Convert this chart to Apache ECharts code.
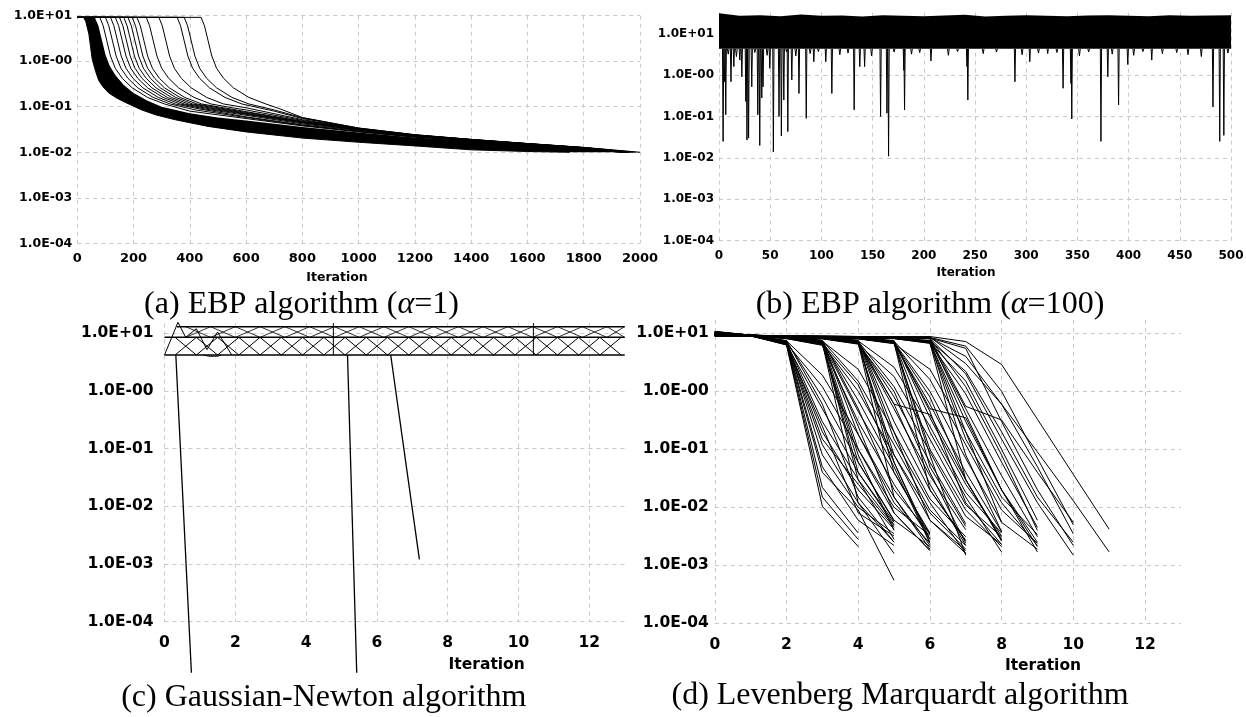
<!DOCTYPE html>
<html><head><meta charset="utf-8">
<script src="https://cdn.jsdelivr.net/npm/echarts@6/dist/echarts.min.js"></script>
<style>html,body{margin:0;padding:0;background:#fff}#c{width:1246px;height:717px}</style>
</head><body><div id="c"></div>
<script>
// ---------- tick labels ----------
const yTickLabels = ['1.0E-04','1.0E-03','1.0E-02','1.0E-01','1.0E-00','1.0E+01'];
const captions = ['(a) EBP algorithm ({i|α}=1)', '(b) EBP algorithm ({i|α}=100)', '(c) Gaussian-Newton algorithm', '(d) Levenberg Marquardt algorithm'];
const xName = 'Iteration';

// ---------- (a) EBP alpha=1 ----------
const aBandLower = [[0,9.2],[22,9.2],[30,7.5],[41,4],[53,1.1],[65,0.6],[76,0.38],[90,0.28],[112,0.2],[140,0.155],[170,0.125],[229,0.085],[280,0.066],[347,0.052],[465,0.037],[600,0.028],[800,0.0205],[1000,0.0166],[1200,0.0138],[1400,0.0113],[1600,0.0104],[1750,0.01]];
const aBandUpper = [[0,9.2],[62,9.2],[75,6],[88,2.8],[100,1.4],[115,0.8],[135,0.5],[165,0.3],[200,0.2],[250,0.135],[300,0.1],[400,0.072],[500,0.058],[600,0.05],[800,0.036],[1000,0.027],[1200,0.021],[1400,0.018],[1600,0.0148],[1800,0.0123],[1900,0.0108],[1960,0.01]];
const aC80  = [[0,9.2],[80,9.2],[92,6],[105,2.8],[118,1.3],[135,0.7],[160,0.42],[195,0.26],[250,0.16],[310,0.115],[400,0.08],[600,0.055],[800,0.038],[1000,0.028],[1200,0.0215],[1400,0.0178],[1600,0.0145],[1800,0.012],[1930,0.01]];
const aC100 = [[0,9.2],[100,9.2],[112,6],[125,2.8],[138,1.3],[155,0.7],[180,0.42],[215,0.26],[270,0.16],[330,0.115],[420,0.085],[600,0.058],[800,0.039],[1000,0.0285],[1200,0.0218],[1400,0.018],[1600,0.0146],[1800,0.0121],[1935,0.01]];
const aC118 = [[0,9.2],[118,9.2],[130,6],[143,2.8],[156,1.3],[173,0.7],[198,0.42],[233,0.26],[288,0.16],[348,0.115],[440,0.088],[600,0.06],[800,0.04],[1000,0.029],[1200,0.022],[1400,0.0181],[1600,0.0147],[1800,0.0121],[1940,0.01]];
const aC135 = [[0,9.2],[135,9.2],[147,6],[160,2.8],[173,1.3],[190,0.7],[215,0.42],[250,0.26],[305,0.16],[365,0.115],[450,0.09],[600,0.065],[800,0.042],[1000,0.03],[1200,0.0225],[1400,0.0183],[1600,0.0148],[1800,0.0122],[1945,0.01]];
const aC150 = [[0,9.2],[150,9.2],[162,6],[175,2.8],[188,1.3],[205,0.7],[230,0.42],[265,0.26],[320,0.16],[380,0.115],[460,0.092],[600,0.068],[800,0.044],[1000,0.031],[1200,0.0228],[1400,0.0185],[1600,0.015],[1800,0.0123],[1950,0.01]];
const aC165 = [[0,9.2],[165,9.2],[177,6],[190,2.8],[203,1.3],[220,0.7],[245,0.42],[280,0.26],[335,0.16],[395,0.115],[470,0.094],[600,0.07],[800,0.045],[1000,0.031],[1200,0.023],[1400,0.0186],[1600,0.0151],[1800,0.0124],[1950,0.01]];
const aC180 = [[0,9.2],[180,9.2],[192,6],[205,2.8],[218,1.3],[235,0.7],[260,0.42],[295,0.26],[350,0.16],[410,0.115],[480,0.096],[600,0.072],[800,0.046],[1000,0.0315],[1200,0.0232],[1400,0.0187],[1600,0.0152],[1800,0.0124],[1955,0.01]];
const aC195 = [[0,9.2],[195,9.2],[207,6],[220,2.8],[233,1.3],[250,0.7],[275,0.42],[310,0.26],[365,0.16],[425,0.115],[500,0.095],[600,0.075],[800,0.047],[1000,0.032],[1200,0.0234],[1400,0.0188],[1600,0.0152],[1800,0.0125],[1958,0.01]];
const aC212 = [[0,9.2],[212,9.2],[224,6],[237,2.8],[250,1.3],[267,0.7],[292,0.42],[327,0.26],[382,0.16],[442,0.115],[520,0.095],[600,0.078],[800,0.048],[1000,0.0322],[1200,0.0235],[1400,0.0188],[1600,0.0153],[1800,0.0125],[1960,0.01]];
const aC245 = [[0,9.2],[245,9.2],[257,6],[270,2.8],[283,1.3],[300,0.7],[325,0.42],[360,0.26],[415,0.16],[475,0.115],[550,0.095],[600,0.085],[800,0.05],[1000,0.0325],[1200,0.0236],[1400,0.0189],[1600,0.0153],[1800,0.0126],[1962,0.01]];
const aC290 = [[0,9.2],[290,9.2],[302,6],[315,2.8],[328,1.3],[345,0.7],[370,0.42],[405,0.26],[460,0.16],[520,0.115],[600,0.095],[800,0.052],[1000,0.033],[1200,0.0238],[1400,0.019],[1600,0.0154],[1800,0.0126],[1965,0.01]];
const aC355 = [[0,9.2],[355,9.2],[367,6],[380,2.8],[393,1.3],[410,0.7],[435,0.42],[470,0.26],[525,0.16],[585,0.115],[700,0.08],[800,0.055],[1000,0.0335],[1200,0.024],[1400,0.019],[1600,0.0155],[1800,0.0127],[1975,0.01]];
const aC380 = [[0,9.2],[380,9.2],[392,6],[405,2.8],[418,1.3],[435,0.7],[460,0.42],[495,0.26],[550,0.16],[610,0.115],[700,0.085],[800,0.057],[1000,0.034],[1200,0.0242],[1400,0.0191],[1600,0.0155],[1800,0.0127],[1985,0.01]];
const aC440 = [[0,9.2],[440,9.2],[452,6],[465,2.8],[478,1.3],[495,0.7],[520,0.42],[555,0.26],[610,0.16],[670,0.115],[720,0.09],[800,0.058],[1000,0.034],[1200,0.0243],[1400,0.0192],[1600,0.0156],[1800,0.0128],[2000,0.01]];
const aCurves = [aC80,aC100,aC118,aC135,aC150,aC165,aC180,aC195,aC212,aC245,aC290,aC355,aC380,aC440];

// ---------- (b) EBP alpha=100 ----------
const bBandX = [0,20,40,60,80,100,120,140,160,180,200,220,240,260,280,300,320,340,360,380,400,420,440,460,480,500];
const bBandTop = [31,27,28,26.5,29,27,27.5,26,28,27,26.5,27.5,28.5,26,27,28,27,26.5,27.5,28,27,26.5,28,27,27.5,28];
const bBandBottom = 4.3;
const bSpikeX = [4,5.5,6.6,11.7,14.5,20.3,22.3,26.2,27.3,28.9,32,37.9,39.8,41.8,43,49.6,53.1,58.6,60.9,63.3,67.2,71.1,78.1,85.2,92.6,104.3,110.2,132,137.5,142.2,157.8,164,165.6,180.5,181.2,207,242.2,243,289,303.5,321,336,343.7,344.5,373,379.7,390.2,399.2,422.6,482.4,489,493];
const bSpikeY = [0.025,0.69,0.11,0.69,1.6,2.3,0.91,0.23,0.027,0.03,0.52,0.11,0.02,0.28,0.52,1.45,0.014,0.1,0.034,0.25,0.043,0.76,0.36,0.09,2.1,2.1,0.36,0.145,1.6,1.6,0.1,0.12,0.011,1.3,0.145,2.2,1.6,0.25,0.69,2.1,3.3,0.48,0.63,0.087,0.025,0.91,0.19,1.8,2.3,0.17,0.025,0.035];
const bSmallX = [9,17,35,47,66,75,89,97,118,126,149,171,188,196,224,233,258,271,296,312,330,352,361,384,405,414,433,447,458,471,497];
const bSmallY = [3.2,2.8,3.5,3.0,3.6,2.9,3.3,3.7,3.1,3.4,2.9,3.6,3.2,3.5,3.0,3.7,3.3,3.6,3.1,3.4,3.5,2.9,3.6,3.2,3.0,3.7,3.3,3.5,3.1,2.8,3.4];

// ---------- (c) Gauss-Newton ----------
const cLevelTop = 13, cLevelMid = 8.5, cLevelLow = 4.2;
const cZigX    = [0.3,0.9,1.5,2.1,2.7,3.3,3.9,4.5,5.1,5.7,6.3,6.9,7.5,8.1,8.7,9.3,9.9,10.5,11.1,11.7,12.3,12.9];
const cZigLowA = [8.5,4.2,8.5,4.2,8.5,4.2,8.5,4.2,8.5,4.2,8.5,4.2,8.5,4.2,8.5,4.2,8.5,4.2,8.5,4.2,8.5,4.2];
const cZigLowB = [4.2,8.5,4.2,8.5,4.2,8.5,4.2,8.5,4.2,8.5,4.2,8.5,4.2,8.5,4.2,8.5,4.2,8.5,4.2,8.5,4.2,8.5];
const cZigUX   = [0.6,1.3,2.0,2.7,3.4,4.1,4.8,5.5,6.2,6.9,7.6,8.3,9.0,9.7,10.4,11.1,11.8,12.5,13.0];
const cZigUpA  = [13,8.5,13,8.5,13,8.5,13,8.5,13,8.5,13,8.5,13,8.5,13,8.5,13,8.5,13];
const cZigUpB  = [8.5,13,8.5,13,8.5,13,8.5,13,8.5,13,8.5,13,8.5,13,8.5,13,8.5,13,8.5];
const cPeak    = [[0,4.2],[0.38,15.5],[0.6,8.5],[0.9,12],[1.2,5.2],[1.5,10.5],[1.9,4.2]];
const cBump    = [[1.1,4.2],[1.25,4.0],[1.5,4.0],[1.6,4.2]];
const cVert1   = [[4.77,15],[4.77,4.2]];
const cVert2   = [[10.42,15],[10.42,4.2]];
const cDrop1   = [[0.32,4.2],[0.76,1.3e-5]];
const cDrop2   = [[5.17,4.2],[5.43,1.3e-5]];
const cDrop3   = [[6.39,4.2],[7.2,0.0012]];

// ---------- (d) Levenberg-Marquardt (value per iteration 0,1,2,...) ----------
const dRuns = [
 [10.2,9.2,6.3,0.0104,0.0021],
 [9.4,9.1,6.5,0.015,0.0028],
 [10.8,9.3,6.8,0.022,0.0036],
 [9.8,9.2,7.0,0.05,0.006,0.0022],
 [10.5,9.3,7.2,0.08,0.01,0.0035],
 [9.2,9.0,6.6,0.12,0.012,0.0016],
 [9.6,9.1,6.9,0.2,0.02,0.0042],
 [10.0,9.2,7.1,0.3,0.03,0.0028],
 [8.9,9.0,6.4,0.5,0.04,0.005],
 [10.3,9.2,7.3,0.8,0.06,0.0058],
 [9.5,9.1,6.7,1.2,0.1,0.008,0.0018],
 [9.9,9.2,7.4,1.9,0.18,0.012,0.0024],
 [9.3,9.0,6.6,0.04,0.009,0.00055],
 [10.6,9.3,7.5,0.6,0.015,0.0025],
 [9.1,9.0,6.3,0.25,0.008,0.0032],
 [9.7,9.1,7.0,0.15,0.025,0.0045],
 [9.6,9.2,8.4,6.8,0.012,0.0025],
 [10.1,9.3,8.6,7.0,0.03,0.0048],
 [9.2,9.1,8.2,6.5,0.06,0.006,0.0021],
 [9.8,9.2,8.5,7.2,0.1,0.01,0.0033],
 [10.4,9.3,8.7,7.4,0.18,0.015,0.0019],
 [9.0,9.0,8.1,6.2,0.3,0.025,0.0029],
 [9.5,9.1,8.4,6.9,0.45,0.04,0.0036],
 [10.0,9.2,8.6,7.1,0.7,0.05,0.0024],
 [9.3,9.1,8.3,6.6,1.0,0.08,0.006,0.0016],
 [10.7,9.3,8.8,7.5,1.5,0.12,0.009,0.0022],
 [9.7,9.2,8.5,7.3,2.4,0.2,0.014,0.0031],
 [8.9,9.0,8.1,6.3,0.08,0.004],
 [9.9,9.2,8.6,7.2,0.25,0.008,0.0018],
 [10.2,9.3,8.7,7.6,0.5,0.02,0.0035],
 [9.4,9.1,8.3,6.8,1.3,0.06,0.0025],
 [9.6,9.1,8.4,7.0,0.04,0.0055],
 [9.5,9.1,8.6,8.2,6.9,0.015,0.0022],
 [10.0,9.2,8.7,8.4,7.2,0.04,0.0034],
 [9.1,9.0,8.5,8.1,6.6,0.08,0.008,0.0019],
 [9.8,9.2,8.7,8.3,7.1,0.15,0.012,0.0016],
 [10.5,9.3,8.9,8.5,7.5,0.3,0.02,0.0027],
 [9.3,9.1,8.5,8.2,6.8,0.5,0.035,0.0041],
 [9.7,9.1,8.6,8.3,7.0,0.8,0.06,0.0052],
 [10.2,9.2,8.8,8.4,7.3,1.2,0.09,0.007,0.0023],
 [8.9,9.0,8.4,8.0,6.5,1.8,0.15,0.011,0.0031],
 [9.6,9.1,8.6,8.3,7.4,2.6,0.25,0.018,0.0036],
 [10.3,9.3,8.8,8.5,7.6,0.2,0.006,0.0018],
 [9.4,9.1,8.5,8.2,6.9,0.6,0.025,0.0022],
 [9.9,9.2,8.7,8.4,7.2,0.06,0.0028],
 [9.2,9.0,8.5,8.1,6.7,1.0,0.04,0.0024],
 [9.4,9.1,8.6,8.3,7.2,0.6,0.4,0.03,0.0027],
 [9.6,9.1,8.7,8.5,8.2,6.9,0.02,0.0026],
 [10.1,9.2,8.8,8.6,8.3,7.2,0.05,0.0047],
 [9.2,9.0,8.6,8.4,8.1,6.7,0.1,0.009,0.0021],
 [9.8,9.2,8.8,8.5,8.2,7.1,0.2,0.015,0.0017],
 [10.4,9.3,8.9,8.7,8.4,7.5,0.35,0.025,0.0032],
 [9.3,9.1,8.6,8.4,8.1,6.8,0.6,0.04,0.0038],
 [9.7,9.1,8.7,8.5,8.2,7.0,1.0,0.07,0.0055],
 [10.0,9.2,8.8,8.6,8.3,7.3,1.6,0.12,0.009,0.0024],
 [8.9,9.0,8.5,8.3,8.0,6.6,2.4,0.2,0.015,0.0034],
 [9.5,9.1,8.7,8.5,8.2,7.2,0.08,0.0015],
 [10.2,9.3,8.9,8.6,8.4,7.4,0.45,0.012,0.0023],
 [9.4,9.1,8.6,8.4,8.1,6.9,0.8,0.03,0.0028],
 [9.6,9.1,8.7,8.5,8.2,7.0,0.5,0.35,0.02,0.0021],
 [9.6,9.2,8.8,8.6,8.5,8.2,6.9,0.03,0.0026],
 [10.0,9.2,8.9,8.7,8.6,8.3,7.2,0.08,0.0038],
 [9.2,9.0,8.7,8.5,8.4,8.1,6.7,0.15,0.012,0.0022],
 [9.8,9.2,8.8,8.7,8.5,8.2,7.1,0.3,0.02,0.0017],
 [10.3,9.3,9.0,8.8,8.6,8.4,7.5,0.5,0.035,0.0031],
 [9.3,9.1,8.7,8.5,8.4,8.1,6.8,0.9,0.06,0.0045],
 [9.7,9.1,8.8,8.6,8.5,8.2,7.0,1.5,0.1,0.006],
 [9.5,9.1,8.7,8.6,8.4,8.2,7.3,0.2,0.0055,0.0019],
 [10.1,9.2,8.9,8.7,8.6,8.3,7.4,2.2,0.2,0.015,0.0025],
 [9.5,9.2,9.0,8.9,8.8,8.7,8.8,7.2,2.9,0.33,0.037,0.0042],
 [9.7,9.2,9.0,8.9,8.8,8.7,8.6,3.0,0.6,0.09,0.013,0.0017],
 [9.4,9.1,8.9,8.8,8.7,8.6,8.3,0.55,0.32,0.04,0.0055],
 [9.9,9.2,9.0,8.9,8.8,8.6,8.4,4.0,0.6,0.05,0.0035],
 [9.3,9.1,8.9,8.8,8.7,8.5,8.2,2.0,0.15,0.012,0.0015],
 [10.0,9.2,9.0,8.9,8.8,8.7,8.5,6.0,1.0,0.07,0.005],
 [9.6,9.1,8.9,8.8,8.7,8.5,8.1,1.2,0.08,0.004],
 [9.8,9.2,9.0,8.9,8.7,8.6,8.3,5.5,0.3,0.02,0.0022],
 [9.2,9.0,8.9,8.8,8.7,8.5,8.0,0.4,0.02,0.0025]
];

// ---------- helpers ----------
function yFmt(v){ const e=Math.log10(v); const r=Math.round(e); if(Math.abs(e-r)>1e-6) return ''; return yTickLabels[r+4]||''; }
const GRID = '#c8c8c8';
function xAx(i,min,max,interval,fs,margin){ const full=(max%interval===0); return {gridIndex:i,type:'value',min,max,interval,
  axisLine:{show:false},axisTick:{show:false},
  axisLabel:{fontFamily:'DejaVu Sans',fontWeight:'bold',fontSize:fs,color:'#000',margin,showMaxLabel:full,formatter:v=>String(v)},
  splitLine:{show:true,showMaxLine:full,lineStyle:{color:GRID,type:[4,4],width:1}}}; }
function yAx(i,max,fs,margin){ const full=Math.abs(Math.log10(max)-Math.round(Math.log10(max)))<1e-6; return {gridIndex:i,type:'log',logBase:10,min:1e-4,max,
  axisLine:{show:false},axisTick:{show:false},
  axisLabel:{fontFamily:'DejaVu Sans',fontWeight:'bold',fontSize:fs,color:'#000',margin,formatter:yFmt},
  splitLine:{show:true,showMaxLine:full,lineStyle:{color:GRID,type:[4,4],width:1}}}; }
function line(i,data,w){ return {type:'line',xAxisIndex:i,yAxisIndex:i,data,symbol:'none',showSymbol:false,
  lineStyle:{color:'#000',width:w||1},animation:false,silent:true,clip:false,z:3}; }
function poly(i,pts){ return {type:'custom',xAxisIndex:i,yAxisIndex:i,data:[pts[0]],silent:true,animation:false,z:2,
  renderItem:(p,api)=>({type:'polygon',shape:{points:pts.map(q=>api.coord(q))},style:{fill:'#000'}})}; }

const series = [];
// (a)
series.push(poly(0, aBandLower.concat(aBandUpper.slice().reverse())));
aCurves.forEach(c=>series.push(line(0,c,1)));
series.push(line(0,aBandLower,1));
// (b)
const bPoly = [[bBandX[0],bBandBottom],[bBandX[bBandX.length-1],bBandBottom]];
for(let k=bBandX.length-1;k>=0;k--) bPoly.push([bBandX[k],bBandTop[k]]);
series.push(poly(1,bPoly));
bSpikeX.forEach((x,k)=>series.push(line(1,[[x-0.6,bBandBottom],[x,bSpikeY[k]],[x+0.6,bBandBottom]],1)));
bSmallX.forEach((x,k)=>series.push(line(1,[[x-0.8,bBandBottom],[x,bSmallY[k]],[x+0.8,bBandBottom]],1)));
// (c)
series.push(line(2,[[0.35,cLevelTop],[13,cLevelTop]],1.5));
series.push(line(2,[[0,cLevelMid],[13,cLevelMid]],1.5));
series.push(line(2,[[0,cLevelLow],[13,cLevelLow]],1.5));
series.push(line(2,cZigX.map((x,k)=>[x,cZigLowA[k]]),1));
series.push(line(2,cZigX.map((x,k)=>[x,cZigLowB[k]]),1));
series.push(line(2,cZigUX.map((x,k)=>[x,cZigUpA[k]]),0.8));
series.push(line(2,cZigUX.map((x,k)=>[x,cZigUpB[k]]),0.8));
[cPeak,cBump,cVert1,cVert2].forEach(d=>series.push(line(2,d,1)));
[cDrop1,cDrop2,cDrop3].forEach(d=>series.push(line(2,d,1.3)));
// (d)
dRuns.forEach(r=>series.push(line(3,r.map((v,k)=>[k,v]),1)));

function cap(t,x,y){ return {type:'text',x,y,style:{text:t,fontFamily:'Liberation Serif',fontSize:32,fill:'#000',align:'center',verticalAlign:'middle',
  rich:{i:{fontFamily:'Liberation Serif',fontSize:32,fontStyle:'italic',fill:'#000'}}}}; }
function nm(x,y,fs){ return {type:'text',x,y,style:{text:xName,fontFamily:'DejaVu Sans',fontWeight:'bold',fontSize:fs,fill:'#000',align:'center',verticalAlign:'middle'}}; }

const chart = echarts.init(document.getElementById('c'),null,{renderer:'canvas'});
chart.setOption({
  animation:false, backgroundColor:'#fff',
  grid:[
    {left:77.3,top:15.7,width:562.7,height:227.6,outerBoundsMode:'none'},
    {left:719,top:12.7,width:512,height:228,outerBoundsMode:'none'},
    {left:164.5,top:323.3,width:460.2,height:298.4,outerBoundsMode:'none'},
    {left:714.8,top:320,width:466,height:303.3,outerBoundsMode:'none'}
  ],
  xAxis:[ xAx(0,0,2000,200,13,9), xAx(1,0,500,50,12,9), xAx(2,0,13,2,15.5,13), xAx(3,0,13,2,15.5,14) ],
  yAxis:[ yAx(0,10,12.5,5), yAx(1,Math.pow(10,1.507),12,5), yAx(2,Math.pow(10,1.173),15.5,11), yAx(3,Math.pow(10,1.229),15.5,6) ],
  series,
  graphic:[
    cap(captions[0],301.5,305), cap(captions[1],930,305), cap(captions[2],323.8,698), cap(captions[3],900,696),
    nm(337,278,12.5), nm(966,272.5,12), nm(486.7,665,15.5), nm(1043,666,15.5)
  ]
});
</script></body></html>
